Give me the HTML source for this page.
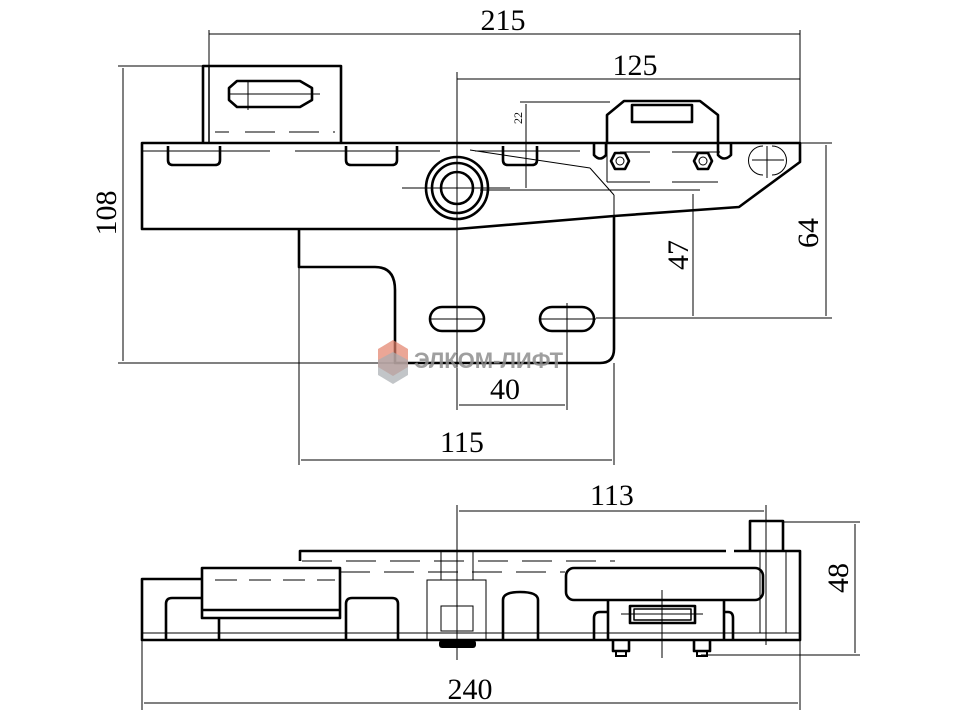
<!DOCTYPE html>
<html><head><meta charset="utf-8"><style>
html,body{margin:0;padding:0;background:#fff}
svg{display:block}
text{font-family:"Liberation Serif",serif;fill:#000}
</style></head><body>
<svg width="957" height="717" viewBox="0 0 957 717" xmlns="http://www.w3.org/2000/svg">
<g fill="none" stroke="#000" stroke-width="1">
<line x1="209" y1="30" x2="209" y2="143"/><line x1="800" y1="30" x2="800" y2="143"/>
<line x1="209" y1="34" x2="800" y2="34"/>
<line x1="457" y1="72" x2="457" y2="410"/>
<line x1="457" y1="79" x2="800" y2="79"/>
<line x1="118" y1="66" x2="203" y2="66"/><line x1="118" y1="363" x2="395" y2="363"/>
<line x1="123" y1="68" x2="123" y2="361"/>
<line x1="520" y1="102" x2="610" y2="102"/><line x1="526" y1="104" x2="526" y2="188"/>
<line x1="800" y1="143" x2="832" y2="143"/><line x1="596" y1="318" x2="832" y2="318"/>
<line x1="826" y1="145" x2="826" y2="316"/>
<line x1="480" y1="190" x2="700" y2="190"/><line x1="693" y1="194" x2="693" y2="316"/>
<line x1="567" y1="303" x2="567" y2="410"/><line x1="459" y1="405" x2="565" y2="405"/>
<line x1="299" y1="229" x2="299" y2="465"/><line x1="614" y1="363" x2="614" y2="465"/>
<line x1="301" y1="460" x2="612" y2="460"/>
<line x1="402" y1="188" x2="510" y2="188"/>
<line x1="228" y1="94" x2="320" y2="94"/>
<line x1="248" y1="80" x2="248" y2="110"/>
<line x1="430" y1="319" x2="484" y2="319"/><line x1="540" y1="319" x2="596" y2="319"/>
<line x1="143" y1="151" x2="270" y2="151"/><line x1="295" y1="151" x2="440" y2="151"/>
<line x1="475" y1="151" x2="580" y2="151"/>
<line x1="470" y1="150" x2="590" y2="168"/><line x1="590" y1="168" x2="614" y2="195"/><line x1="614" y1="195" x2="614" y2="215"/>
<line x1="607" y1="143" x2="607" y2="182"/><line x1="607" y1="182" x2="650" y2="182"/><line x1="672" y1="182" x2="718" y2="182"/>
<line x1="620" y1="152" x2="650" y2="152"/><line x1="672" y1="152" x2="720" y2="152"/>
<path d="M763 146 A14 14 0 0 0 763 175"/><path d="M772 146 A14 14 0 0 1 772 175"/>
<line x1="752" y1="160" x2="784" y2="160"/><line x1="767" y1="146" x2="767" y2="178"/>
<line x1="215" y1="132" x2="232" y2="132" stroke-dasharray="14 8"/>
<line x1="245" y1="132" x2="335" y2="132" stroke-dasharray="30 14"/>
</g>
<g fill="none" stroke="#000" stroke-width="2.6" stroke-linejoin="round">
<path d="M142 143 H800 V162 L739 207 L614 216 L457 229 H142 Z"/>
<path d="M203 143 V66 H341 V143"/><line x1="209" y1="66" x2="209" y2="143" stroke-width="1.5"/>
<path d="M237 81 H300 L312 88 V100 L300 107 H237 L229 100 V88 Z"/>
<path d="M168 146 V160 Q168 165 173 165 H215 Q220 165 220 160 V146"/>
<path d="M346 146 V160 Q346 165 351 165 H392 Q397 165 397 160 V146"/>
<path d="M503 146 V160 Q503 165 508 165 H532 Q537 165 537 160 V146"/>
<circle cx="457" cy="188" r="31"/><circle cx="457" cy="188" r="25"/><circle cx="457" cy="188" r="16"/>
<path d="M299 229 V267 H375 Q395 267 395 290 V363 H600 Q614 363 614 349 V216"/>
<rect x="430" y="307" width="54" height="24" rx="12"/>
<rect x="540" y="307" width="54" height="24" rx="12"/>
<path d="M607 143 V115 L624 101 H700 L718 115 V143"/>
<rect x="632" y="105" width="60" height="17"/>
<path d="M594 143 V155 Q600 162 606 155 V143"/><path d="M718 143 V155 Q724 162 731 155 V143"/>
<polygon points="611,161 615,153 625,153 629,161 625,169 615,169"/>
<polygon points="694,161 698,153 708,153 712,161 708,169 698,169"/>
</g>
<circle cx="620" cy="161" r="4" fill="none" stroke="#000"/><circle cx="703" cy="161" r="4" fill="none" stroke="#000"/>
<polygon points="393,340 408,349 408,367 393,376 378,367 378,349" fill="#e3806a" opacity="0.7"/>
<polygon points="393,352 408,360 408,375 393,384 378,375 378,360" fill="#a8adb0" opacity="0.7"/>
<text x="414" y="368" font-weight="bold" font-size="22" style="fill:#8f8f8f;font-family:'Liberation Sans',sans-serif" opacity="0.85">ЭЛКОМ-ЛИФТ</text>

<!-- bottom view thin -->
<g fill="none" stroke="#000" stroke-width="1">
<line x1="457" y1="505" x2="457" y2="660"/><line x1="766" y1="505" x2="766" y2="645"/>
<line x1="459" y1="511" x2="764" y2="511"/>
<line x1="783" y1="522" x2="860" y2="522"/><line x1="701" y1="655" x2="860" y2="655"/>
<line x1="855" y1="524" x2="855" y2="653"/>
<line x1="142" y1="640" x2="142" y2="710"/><line x1="800" y1="640" x2="800" y2="710"/>
<line x1="144" y1="703" x2="798" y2="703"/>
<line x1="302" y1="561" x2="615" y2="561" stroke-dasharray="30 14"/>
<line x1="340" y1="572" x2="565" y2="572" stroke-dasharray="30 14"/>
<line x1="215" y1="580" x2="335" y2="580" stroke-dasharray="22 12"/>
<line x1="142" y1="633" x2="800" y2="633"/>
<rect x="427" y="580" width="59" height="60"/>
<rect x="441" y="606" width="32" height="25"/>
<line x1="441" y1="552" x2="441" y2="580"/><line x1="473" y1="552" x2="473" y2="580"/>
<line x1="760" y1="552" x2="760" y2="633"/><line x1="786" y1="552" x2="786" y2="633"/>
<line x1="662" y1="590" x2="662" y2="658"/>
<line x1="621" y1="614" x2="703" y2="614"/>
</g>
<g fill="none" stroke="#000" stroke-width="2.6" stroke-linejoin="round">
<path d="M300 561 V551 H726 M734 551 H800 V640 H142 V579 H202"/>
<rect x="202" y="568" width="138" height="50"/>
<line x1="202" y1="610" x2="340" y2="610"/>
<path d="M166 640 V604 Q166 598 172 598 H202 M219 640 V618"/>
<path d="M346 640 V604 Q346 598 352 598 H392 Q398 598 398 604 V640"/>
<path d="M503 640 V600 Q503 592 520 592 Q538 592 538 600 V640"/>
<rect x="566" y="568" width="197" height="32" rx="8"/>
<path d="M750 551 V521 H783 V551"/>
<path d="M594 640 V618 Q594 612 600 612 H608 V600 M608 612 V640 M724 600 V640 M724 612 H728 Q733 612 733 618 V640"/>
<rect x="630" y="606" width="65" height="17"/><rect x="634" y="609" width="57" height="11" stroke-width="1.5"/>
<path d="M613 640 V651 H629 V640 M694 640 V651 H710 V640"/>
</g>
<rect x="439" y="640" width="37" height="8" rx="3" fill="#000"/>
<rect x="616" y="651" width="10" height="5" fill="none" stroke="#000" stroke-width="2"/>
<rect x="697" y="651" width="10" height="5" fill="none" stroke="#000" stroke-width="2"/>

<g font-size="30">
<text x="503" y="30" text-anchor="middle">215</text>
<text x="635" y="75" text-anchor="middle">125</text>
<text x="505" y="399" text-anchor="middle">40</text>
<text x="462" y="452" text-anchor="middle">115</text>
<text x="612" y="505" text-anchor="middle">113</text>
<text x="470" y="699" text-anchor="middle">240</text>
<text transform="translate(116,213) rotate(-90)" text-anchor="middle">108</text>
<text transform="translate(818,233) rotate(-90)" text-anchor="middle">64</text>
<text transform="translate(688,255) rotate(-90)" text-anchor="middle">47</text>
<text transform="translate(848,578) rotate(-90)" text-anchor="middle">48</text>
</g>
<text transform="translate(522,118) rotate(-90)" text-anchor="middle" font-size="12">22</text>
</svg>
</body></html>
